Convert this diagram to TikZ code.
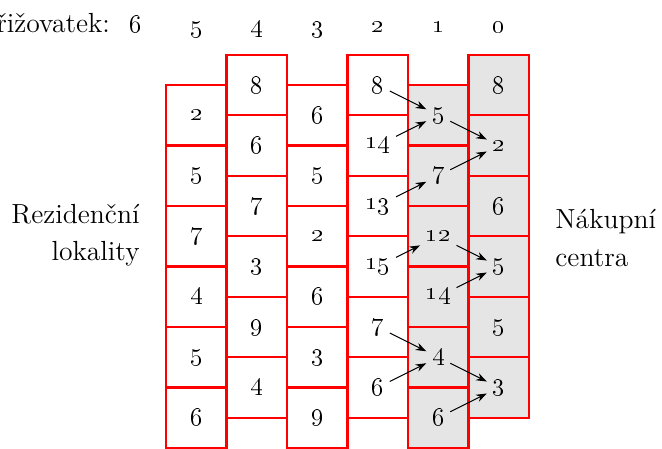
\documentclass[tikz,border=0pt]{standalone}
\usetikzlibrary{arrows.meta}
\tikzset{
  cellbox/.style={
    draw=red,
    line width=1pt,
    minimum size=1cm,
    inner sep=0pt
  },
  cellboxhi/.style={
    cellbox,
    fill=black!10
  },
  cellnum/.style={
    font=\fontsize{13}{15}\selectfont,
    inner sep=2.5pt
  },
  sidelabel/.style={
    font=\fontsize{13}{17.5}\selectfont,
    inner sep=0pt
  },
  flowarrow/.style={-{Stealth[length=5pt,width=3.6pt]}, line width=0.45pt, draw=black}
}

\begin{document}
\begin{tikzpicture}
  \useasboundingbox (-2.744,0) rectangle (8.198,7.405);

  % columns of localities, odd ones shifted down by half a box
  \foreach \c/\sty/\vals in {1/cellbox/{2,5,7,4,5,6}, 2/cellbox/{8,6,7,3,9,4},
      3/cellbox/{6,5,2,6,3,9}, 4/cellbox/{8,14,13,15,7,6},
      5/cellboxhi/{5,7,12,14,4,6}, 6/cellboxhi/{8,2,6,5,5,3}} {
    \foreach \v [count=\r] in \vals {
      \pgfmathsetmacro\yy{6.5-\r+0.5*(1-mod(\c,2))}
      \node[\sty] (b\c\r) at (\c-0.5,\yy) {};
      \node[cellnum] (n\c\r) at (b\c\r) {\oldstylenums{\v}};
    }
  }

  % number of crossings above the columns
  \node[sidelabel, anchor=base east] (title) at (-0.92,6.86) {křižovatek:};
  \foreach \k in {0,...,6}
    \node[cellnum, anchor=base] (k\k) at (5.5-\k,6.86) {\oldstylenums{\k}};

  \node[sidelabel, align=right, anchor=east] (rez) at (-0.43,3.52) {Rezidenční\\lokality};
  \node[sidelabel, align=left, anchor=west] (nak) at (6.43,3.47) {Nákupní\\centra};

  \foreach \a/\b in {41/51, 42/51, 51/62, 43/52, 52/62, 44/53,
      53/64, 54/64, 45/55, 46/55, 55/66, 56/66}
    \draw[flowarrow] (n\a) -- (n\b);
\end{tikzpicture}
\end{document}
